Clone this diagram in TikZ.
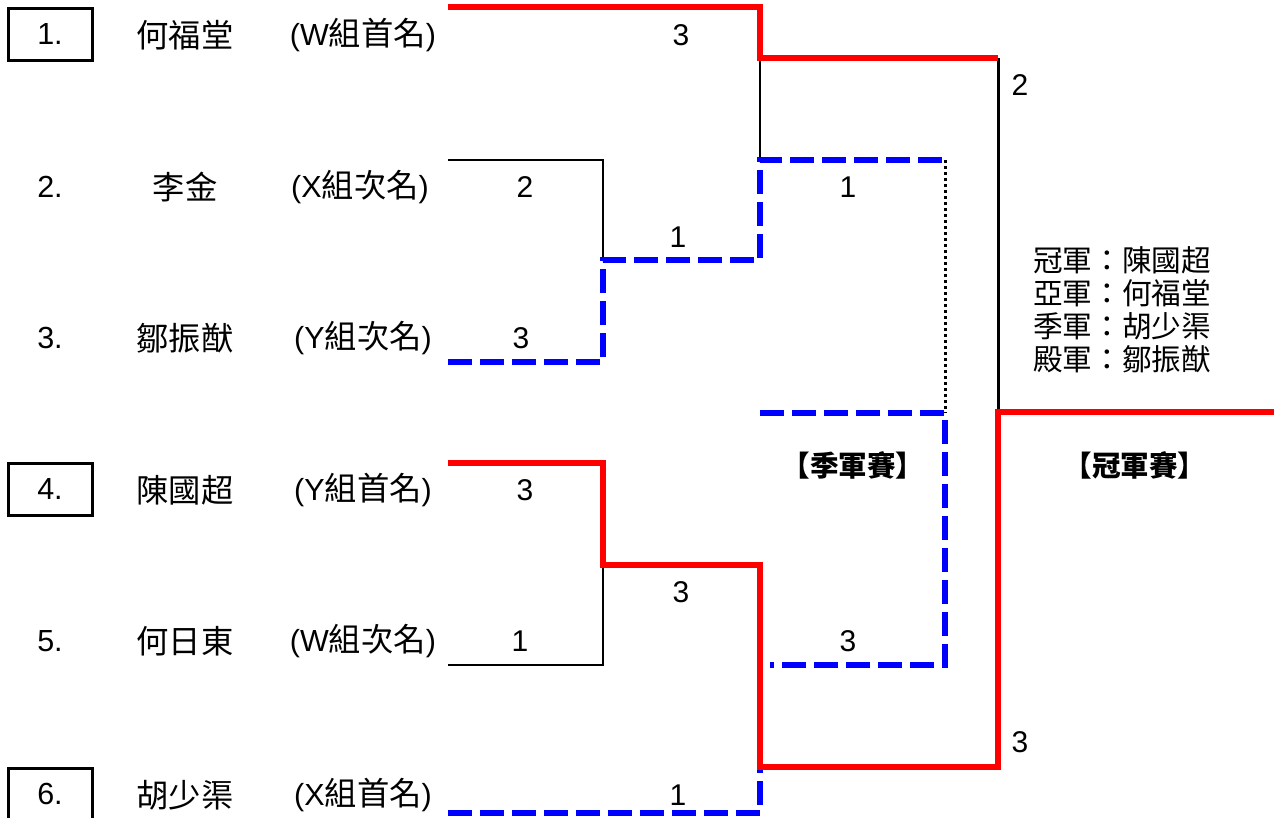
\documentclass[tikz,border=0pt]{standalone}
\usepackage{fontspec}
\setmainfont{Liberation Sans}
\newfontfamily\cjk[Scale=1.06]{Noto Sans CJK TC}
\newcommand\zh[1]{{\cjk #1}}
\begin{document}
\begin{tikzpicture}[x=1pt,y=-1pt,
  txt/.style={inner sep=0pt,font=\fontsize{30.5}{33}\selectfont},
  seedbox/.style={draw,line width=3pt,minimum width=84pt,minimum height=52pt,inner sep=0pt,font=\fontsize{30.5}{33}\selectfont},
  score/.style={inner sep=0pt,font=\fontsize{30}{33}\selectfont},
  winline/.style={draw=red,line width=5.5pt},
  loseline/.style={draw=black,line width=2.2pt},
  thirdline/.style={draw=blue,line width=5.5pt,dash pattern=on 24pt off 8pt},
  dotline/.style={draw=black,line width=3pt,dash pattern=on 3pt off 3pt},
  title/.style={inner sep=0pt,font=\fontsize{27}{30}\selectfont\bfseries\cjk}]
\useasboundingbox (0,0) rectangle (1274,817);
% seeds
\node[seedbox] (n1) at (50,34) {1.};
\node[txt] (n2) at (50,187) {2.};
\node[txt] (n3) at (50,338) {3.};
\node[seedbox] (n4) at (50,489) {4.};
\node[txt] (n5) at (50,641) {5.};
\node[seedbox] (n6) at (50,794) {6.};
% names
\node[txt] (a1) at (185,35) {\zh{何福堂}};
\node[txt] (a2) at (185,187) {\zh{李金}};
\node[txt] (a3) at (185,338) {\zh{鄒振猷}};
\node[txt] (a4) at (185,490) {\zh{陳國超}};
\node[txt] (a5) at (185,641) {\zh{何日東}};
\node[txt] (a6) at (185,795) {\zh{胡少渠}};
% groups
\node[txt] (g1) at (363,35) {(W\zh{組首名})};
\node[txt] (g2) at (360,187) {(X\zh{組次名})};
\node[txt] (g3) at (363,338) {(Y\zh{組次名})};
\node[txt] (g4) at (363,490) {(Y\zh{組首名})};
\node[txt] (g5) at (363,641) {(W\zh{組次名})};
\node[txt] (g6) at (363,795) {(X\zh{組首名})};
% bracket points
\coordinate (e1) at (448,7);
\coordinate (e2) at (448,160);
\coordinate (e3) at (448,362);
\coordinate (e4) at (448,463);
\coordinate (e5) at (448,665);
\coordinate (e6) at (448,813);
\coordinate (q1) at (603,160);
\coordinate (q2) at (603,260);
\coordinate (q3) at (603,362);
\coordinate (q4) at (603,463);
\coordinate (q5) at (603,565);
\coordinate (q6) at (603,665);
\coordinate (s1) at (760,7);
\coordinate (s2) at (760,58);
\coordinate (s3) at (760,160);
\coordinate (s4) at (760,260);
\coordinate (s5) at (760,565);
\coordinate (s6) at (760,767);
\coordinate (s7) at (760,813);
\coordinate (t1) at (945,160);
\coordinate (t2) at (945,413);
\coordinate (t3) at (760,413);
\coordinate (t4) at (945,665);
\coordinate (t5) at (770,665);
\coordinate (f1) at (998,58);
\coordinate (f2) at (998,412);
\coordinate (f3) at (998,767);
\coordinate (f4) at (1274,412);
% black (losing) lines
\draw[loseline] (s2) -- (s3);
\draw[loseline] (e2) -- (q1) -- (q2);
\draw[loseline] (e5) -- (q6) -- (q5);
\draw[loseline,line width=3pt] (f1) -- (f2);
\draw[dotline] (t1) -- (t2);
% blue (third place) lines
\draw[thirdline] (e3) -- (q3) -- (q2) -- (s4) -- (s3) -- (t1);
\draw[thirdline] (t3) -- (t2) -- (t4) -- (t5);
\draw[thirdline] (e6) -- (s7) -- (s6);
% red (winning) lines
\draw[winline] (e1) -- (s1) -- (s2) -- (f1);
\draw[winline] (e4) -- (q4) -- (q5) -- (s5) -- (s6) -- (f3) -- (f2) -- (f4);
% scores
\node[score] (c1) at (681,35) {3};
\node[score] (c2) at (1020,85) {2};
\node[score] (c3) at (525,187) {2};
\node[score] (c4) at (678,237) {1};
\node[score] (c5) at (848,187) {1};
\node[score] (c6) at (521,338) {3};
\node[score] (c7) at (525,490) {3};
\node[score] (c8) at (681,592) {3};
\node[score] (c9) at (520,641) {1};
\node[score] (c10) at (848,641) {3};
\node[score] (c11) at (1020,742) {3};
\node[score] (c12) at (678,795) {1};
% titles
\node[title] (h1) at (853,465) {【季軍賽】};
\node[title] (h2) at (1135,465) {【冠軍賽】};
% results
\node[inner sep=0pt,align=left,font=\fontsize{28}{33}\selectfont\cjk,anchor=north west] (res) at (1033,246)
  {冠軍：陳國超\\亞軍：何福堂\\季軍：胡少渠\\殿軍：鄒振猷};
\end{tikzpicture}
\end{document}
